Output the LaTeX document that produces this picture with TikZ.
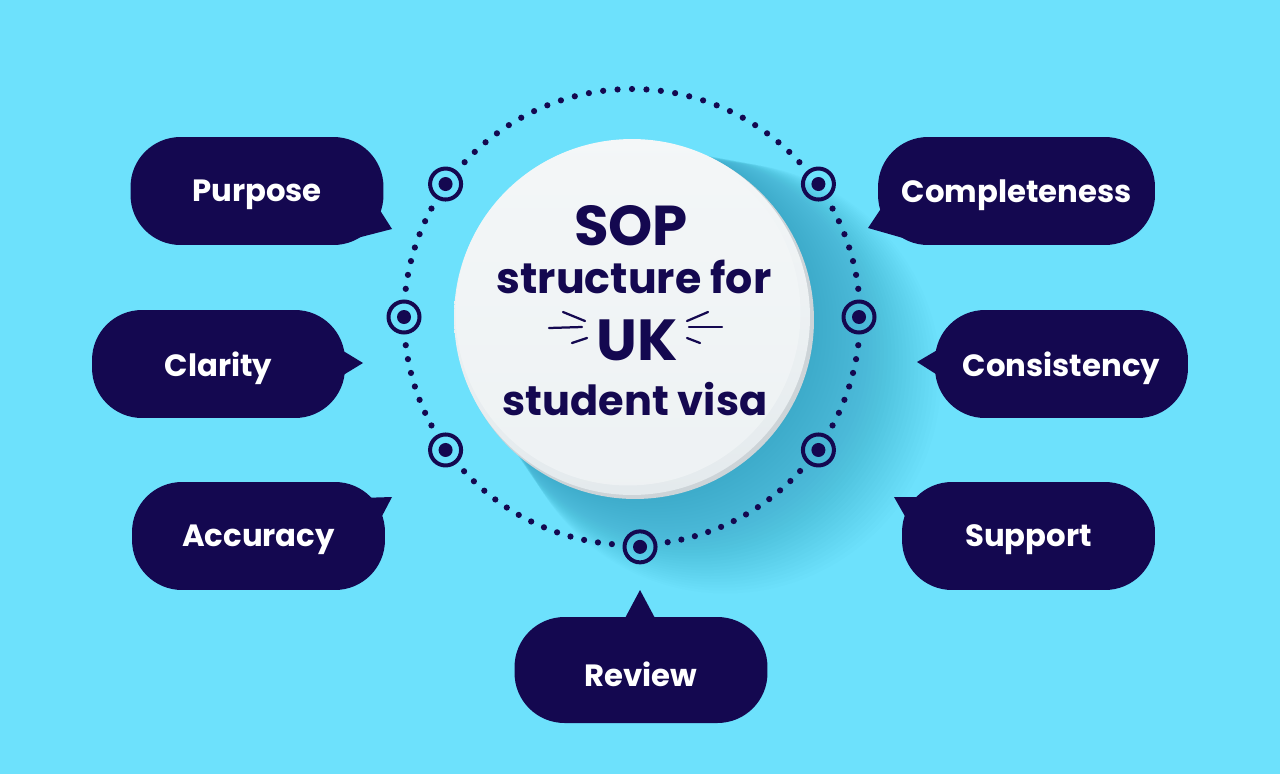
\documentclass[tikz,border=0pt]{standalone}
\usepackage{fontspec}
\setmainfont{Poppins}
\usetikzlibrary{calc}
\definecolor{bgc}{RGB}{109,225,252}
\definecolor{navy}{RGB}{20,8,80}
\definecolor{discw}{RGB}{244,247,248}
\definecolor{discg}{RGB}{228,234,237}
\definecolor{rimc}{RGB}{205,212,216}
\definecolor{shadowc}{RGB}{30,135,170}
\tikzset{
  bubble/.style={fill=navy, text=white, rounded corners=1cm, minimum height=2.16cm,
    minimum width=5.06cm, inner sep=0pt, font=\fontsize{17.5}{20}\selectfont\bfseries},
  btext/.style={text=white, inner sep=0pt, yshift=-2.3pt, font=\fontsize{17.5}{20}\selectfont\bfseries},
  tail/.style={fill=navy},
  marker/.style={circle, draw=navy, line width=0.08cm, minimum size=0.62cm, inner sep=0pt,
    path picture={\fill[navy] (path picture bounding box.center) circle (0.14cm);}},
  ringdot/.style={fill=navy},
  ctext/.style={text=navy, anchor=base, inner sep=0pt},
  flour/.style={draw=navy, line width=0.045cm, line cap=round}
}
\begin{document}
\begin{tikzpicture}[x=0.02cm,y=-0.02cm]
\useasboundingbox (0,0) rectangle (1280,774);
\fill[bgc] (0,0) rectangle (1280,774);
\coordinate (C) at (632,317);
% shadow
\begin{scope}
\clip (0,0) rectangle (1280,774);
\foreach \k in {1,...,36} {
  \fill[shadowc, opacity=0.02] ($(C)+(\k*2.6,\k*1.7)$) circle ({(172+\k*1.2)*0.02cm});
}
\end{scope}
% dotted ring
\foreach \a/\b/\n in {0/35.5/10, 35.5/88/15, 88/144.5/16, 144.5/180/10, 180/215.5/10, 215.5/324.5/30, 324.5/360/10} {
  \pgfmathtruncatemacro\m{\n-2}
  \foreach \i in {2,...,\m} {
    \fill[ringdot] ($(C)+({\a+\i*(\b-\a)/\n}:228)$) circle (0.062cm);
  }
}
% markers
\node[marker] (mur) at ($(C)+(-35.5:229)$) {};
\node[marker] (mul) at ($(C)+(215.5:229)$) {};
\node[marker] (ml)  at ($(C)+(180:228)$) {};
\node[marker] (mr)  at ($(C)+(0:227)$) {};
\node[marker] (mll) at ($(C)+(144.5:229)$) {};
\node[marker] (mlr) at ($(C)+(35.5:229)$) {};
\node[marker] (mb)  at ($(C)+(88:230)$) {};
% disc
\fill[rimc] ($(C)+(3,3)$) circle (3.58cm);
\shade[top color=discw, bottom color=discg] (C) circle (3.56cm);
\fill[discw, opacity=0.6] ($(C)+(-4,-4)$) circle (3.45cm);
% centre text
\node[ctext, font=\fontsize{32}{34}\selectfont\bfseries] (sop) at (631,245) {SOP};
\node[ctext, font=\fontsize{24.3}{28}\selectfont\bfseries] (struct) at (634,293) {structure for};
\node[ctext, font=\fontsize{33}{34}\selectfont\bfseries] (uk) at (637,360) {UK};
\node[ctext, font=\fontsize{23.6}{28}\selectfont\bfseries] (visa) at (635,415) {student visa};
% flourishes
\draw[flour] (563,312) -- (585,321);
\draw[flour] (549,328) -- (582,327);
\draw[flour] (572,343) -- (587,338);
\draw[flour] (708,312) -- (687,321);
\draw[flour] (722,327) -- (689,327);
\draw[flour] (700,343) -- (687,338);
% bubbles
\fill[tail] (376,204) -- (392,229) -- (357,238) -- cycle;
\node[bubble] (purpose) at (257,191) {};
\node[btext] (purposet) at (purpose.center) {Purpose};
\fill[tail] (884,204) -- (868,228) -- (903,238) -- cycle;
\node[bubble, minimum width=5.54cm] (complete) at (1016.5,191) {};
\node[btext] (completet) at (complete.center) {Completeness};
\fill[tail] (340,349) -- (363,363) -- (340,377) -- cycle;
\node[bubble] (clarity) at (218.5,364) {};
\node[btext] (clarityt) at (clarity.center) {Clarity};
\fill[tail] (939,349) -- (917,362) -- (939,376) -- cycle;
\node[bubble] (consist) at (1061.5,364) {};
\node[btext] (consistt) at (consist.center) {Consistency};
\fill[tail] (360,498) -- (392,497) -- (381,518) -- cycle;
\node[bubble] (accuracy) at (258.5,536) {};
\node[btext] (accuracyt) at (accuracy.center) {Accuracy};
\fill[tail] (922,497) -- (894,497) -- (906,518) -- cycle;
\node[bubble] (support) at (1028.5,536) {};
\node[btext] (supportt) at (support.center) {Support};
\fill[tail] (624,620) -- (640,590) -- (656,620) -- cycle;
\node[bubble, minimum height=2.12cm] (review) at (641,670) {};
\node[btext] (reviewt) at (review.center) {Review};
\end{tikzpicture}
\end{document}
